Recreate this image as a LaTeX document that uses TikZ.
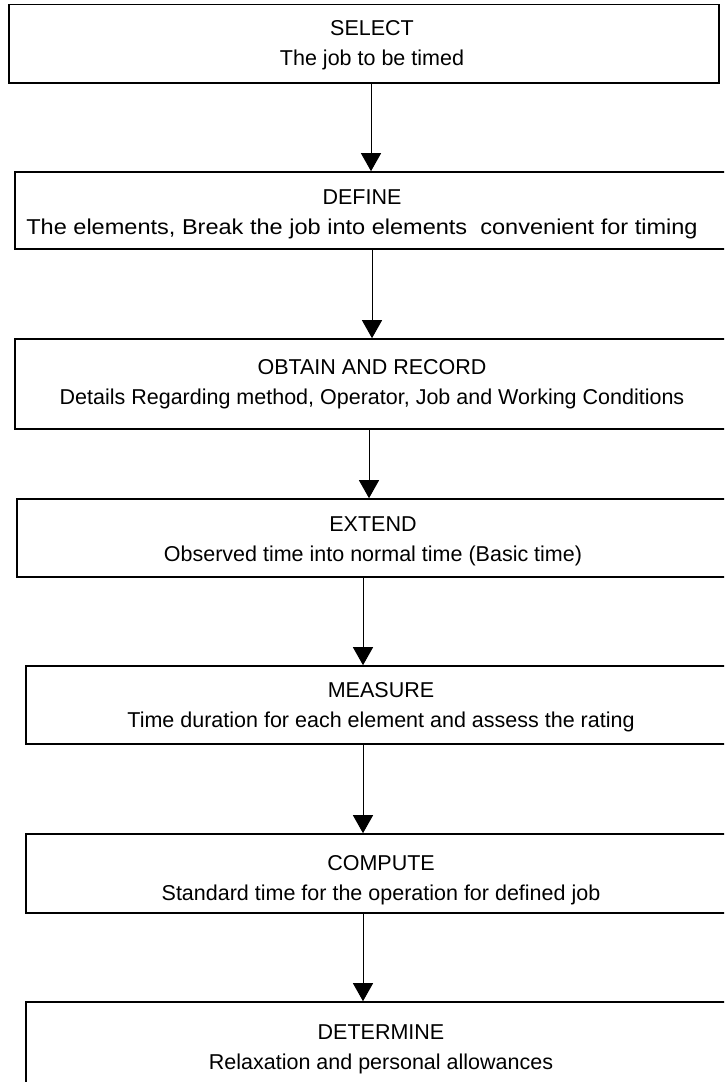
\documentclass[tikz,border=0pt]{standalone}
\usepackage{fontspec}
\setmainfont{Liberation Sans}
\usetikzlibrary{arrows.meta}
\tikzset{
  box/.style={draw=black, line width=1.6pt, rectangle, inner sep=0pt},
  txt/.style={align=center, font=\fontsize{21.5}{30}\selectfont, inner sep=0pt},
  arr/.style={draw=black, line width=1pt, -{Triangle[width=20pt,length=18pt]}}
}
\begin{document}
\begin{tikzpicture}[x=1pt,y=-1pt]
\useasboundingbox (0,0) rectangle (724,1082);
\clip (0,0) rectangle (724,1082);
% boxes
\node[box, minimum width=710pt, minimum height=78.5pt] (sel) at (364,43.75) {};
\node[box, minimum width=725pt, minimum height=77pt] (def) at (377.5,210.5) {};
\node[box, minimum width=725pt, minimum height=90pt] (obt) at (377.5,384) {};
\node[box, minimum width=723pt, minimum height=78pt] (ext) at (378.5,538) {};
\node[box, minimum width=714pt, minimum height=78pt] (mea) at (383,705) {};
\node[box, minimum width=714pt, minimum height=79pt] (com) at (383,873.5) {};
\node[box, minimum width=714pt, minimum height=98pt] (det) at (383,1051) {};
% texts
\node[txt] (tsel) at (372,45) {SELECT\\The job to be timed};
\node[txt] (tdef) at (362,214) {DEFINE\\\scalebox{1.095}[1]{The elements, Break the job into elements\ \ convenient for timing}};
\node[txt] (tobt) at (372,384.5) {OBTAIN AND RECORD\\Details Regarding method, Operator, Job and Working Conditions};
\node[txt] (text) at (373,541) {EXTEND\\Observed time into normal time (Basic time)};
\node[txt] (tmea) at (381,707.5) {MEASURE\\Time duration for each element and assess the rating};
\node[txt] (tcom) at (381,880.5) {COMPUTE\\Standard time for the operation for defined job};
\node[txt] (tdet) at (381,1049) {DETERMINE\\Relaxation and personal allowances};
% arrow columns
\coordinate (a1) at (371,0);
\coordinate (a2) at (372,0);
\coordinate (a3) at (369,0);
\coordinate (a4) at (363,0);
\coordinate (a5) at (363,0);
\coordinate (a6) at (363,0);
\draw[arr] (sel.south -| a1) -- (def.north -| a1);
\draw[arr] (def.south -| a2) -- (obt.north -| a2);
\draw[arr] (obt.south -| a3) -- (ext.north -| a3);
\draw[arr] (ext.south -| a4) -- (mea.north -| a4);
\draw[arr] (mea.south -| a5) -- (com.north -| a5);
\draw[arr] (com.south -| a6) -- (det.north -| a6);
\end{tikzpicture}
\end{document}
